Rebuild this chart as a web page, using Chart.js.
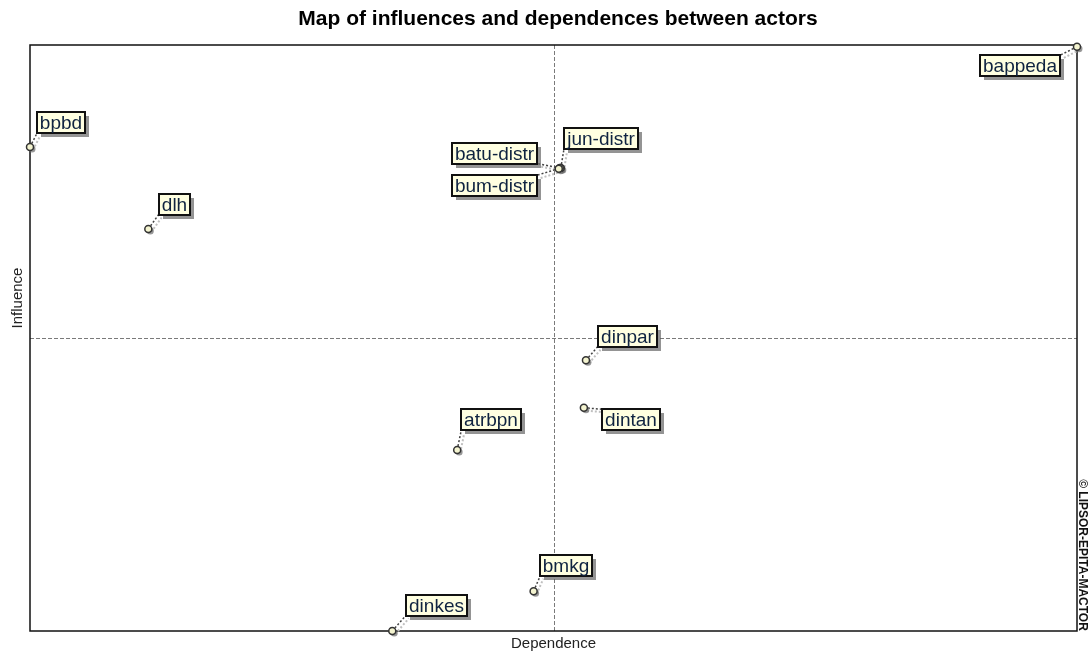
<!DOCTYPE html>
<html>
<head>
<meta charset="utf-8">
<script src="https://cdn.jsdelivr.net/npm/chart.js@4.4.1/dist/chart.umd.min.js"></script>
<style>
  html, body { margin: 0; padding: 0; background: #fff; }
  #wrap { width: 1091px; height: 653px; }
</style>
</head>
<body>
<div id="wrap"><canvas id="myChart1" width="1091" height="653"></canvas></div>
<script>
// actors and their positions (dependence = x, influence = y)
const actors = ["bappeda","bpbd","dlh","jun-distr","batu-distr","bum-distr","dinpar","dintan","atrbpn","bmkg","dinkes"];
const dependence = [1.000, 0.000, 0.113, 0.507, 0.506, 0.505, 0.531, 0.529, 0.408, 0.481, 0.346];
const influence  = [0.997, 0.826, 0.686, 0.790, 0.790, 0.789, 0.462, 0.381, 0.309, 0.068, 0.000];
const midDependence = 0.5;
const midInfluence = 0.5;

// where each label box sits (center offset from its point, px)
const labelOffsets = [[-57,19],[31,-24],[26,-25],[40,-30],[-65,-15],[-64,17],[41,-24],[47,12],[34,-30],[33,-26],[44,-26]];

const titol1 = "Map of influences and dependences between actors";
const xTitle = "Dependence";
const yTitle = "Influence";
const copyright = "© LIPSOR-EPITA-MACTOR";

const labelFont = "19px 'Liberation Sans', Arial, sans-serif";

function boxFor(i, px, py, ctx) {
    ctx.font = labelFont;
    let w = ctx.measureText(actors[i]).width + 6;
    let h = 21;
    let cx = px + labelOffsets[i][0];
    let cy = py + labelOffsets[i][1];
    return {x: cx - w/2, y: cy - h/2, w: w, h: h, cx: cx, cy: cy};
}

const mapPlugin = {
    id: 'mapPlugin',
    beforeDatasetsDraw(chart) {
        const ctx = chart.ctx;
        const a = chart.chartArea;
        const xs = chart.scales.x, ys = chart.scales.y;
        ctx.save();
        // midlines
        ctx.strokeStyle = '#7a7a7a';
        ctx.lineWidth = 1;
        ctx.setLineDash([4,2]);
        let mx = Math.round(xs.getPixelForValue(midDependence)) + 0.5;
        let my = Math.round(ys.getPixelForValue(midInfluence)) + 0.5;
        ctx.beginPath();
        ctx.moveTo(mx, a.top); ctx.lineTo(mx, a.bottom);
        ctx.moveTo(a.left, my); ctx.lineTo(a.right, my);
        ctx.stroke();
        ctx.setLineDash([]);
        // frame
        ctx.strokeStyle = '#111';
        ctx.lineWidth = 1.5;
        ctx.strokeRect(a.left, a.top, a.right - a.left, a.bottom - a.top);

        // connectors
        const meta = chart.getDatasetMeta(0);
        meta.data.forEach(function(pt, i) {
            let b = boxFor(i, pt.x, pt.y, ctx);
            let ex = Math.min(Math.max(pt.x, b.x), b.x + b.w);
            let ey = Math.min(Math.max(pt.y, b.y), b.y + b.h);
            ctx.setLineDash([2,2]);
            ctx.lineWidth = 2;
            ctx.strokeStyle = '#c0c0c0';
            ctx.beginPath();
            ctx.moveTo(pt.x + 3, pt.y + 3); ctx.lineTo(ex + 3, ey + 3);
            ctx.stroke();
            ctx.strokeStyle = '#444';
            ctx.lineWidth = 1.5;
            ctx.beginPath();
            ctx.moveTo(pt.x, pt.y); ctx.lineTo(ex, ey);
            ctx.stroke();
            ctx.setLineDash([]);
            // point shadow
            ctx.fillStyle = 'rgba(110,110,110,0.7)';
            ctx.beginPath();
            ctx.arc(pt.x + 2, pt.y + 2, 3.5, 0, Math.PI*2);
            ctx.fill();
        });
        ctx.restore();
    },
    afterDatasetsDraw(chart) {
        const ctx = chart.ctx;
        const meta = chart.getDatasetMeta(0);
        ctx.save();
        meta.data.forEach(function(pt, i) {
            let b = boxFor(i, pt.x, pt.y, ctx);
            let bx = Math.round(b.x), by = Math.round(b.y), bw = Math.round(b.w);
            ctx.fillStyle = 'rgba(90,90,90,0.65)';
            ctx.fillRect(bx + 4, by + 4, bw, b.h);
            ctx.fillStyle = '#ffffe1';
            ctx.fillRect(bx, by, bw, b.h);
            ctx.strokeStyle = '#111';
            ctx.lineWidth = 2;
            ctx.strokeRect(bx, by, bw, b.h);
            ctx.fillStyle = '#0f2340';
            ctx.font = labelFont;
            ctx.textAlign = 'center';
            ctx.textBaseline = 'middle';
            ctx.fillText(actors[i], bx + bw/2, by + b.h/2 + 1);
        });
        ctx.restore();
    },
    afterDraw(chart) {
        const ctx = chart.ctx;
        const a = chart.chartArea;
        ctx.save();
        ctx.fillStyle = '#000';
        ctx.textAlign = 'center';
        ctx.textBaseline = 'alphabetic';
        ctx.font = "bold 21px 'Liberation Sans', Arial, sans-serif";
        ctx.fillText(titol1, 558, 25);
        ctx.font = "15px 'Liberation Sans', Arial, sans-serif";
        ctx.fillStyle = '#222';
        ctx.fillText(xTitle, (a.left + a.right)/2, 648);
        ctx.save();
        ctx.translate(22, 298);
        ctx.rotate(-Math.PI/2);
        ctx.fillText(yTitle, 0, 0);
        ctx.restore();
        ctx.save();
        ctx.translate(1079, 555);
        ctx.rotate(Math.PI/2);
        ctx.font = "bold 12px 'Liberation Sans', Arial, sans-serif";
        ctx.fillStyle = '#111';
        ctx.fillText(copyright, 0, 0);
        ctx.restore();
        ctx.restore();
    }
};

function pintar1() {
    const ctx = document.getElementById('myChart1').getContext('2d');
    myChart1 = new Chart(ctx, {
        type: 'scatter',
        data: {
            datasets: [{
                label: 'actors',
                data: dependence.map(function(d, i) { return {x: d, y: influence[i]}; }),
                pointRadius: 3.5,
                pointHoverRadius: 3.5,
                pointBackgroundColor: '#f4f4d0',
                pointBorderColor: '#333',
                pointBorderWidth: 1.5,
                clip: false
            }]
        },
        options: {
            responsive: false,
            animation: false,
            layout: { padding: { left: 30, right: 14, top: 45, bottom: 22 } },
            plugins: {
                legend: { display: false },
                tooltip: { enabled: false },
                title: { display: false }
            },
            scales: {
                x: { type: 'linear', min: 0, max: 1, display: false },
                y: { type: 'linear', min: 0, max: 1, display: false }
            }
        },
        plugins: [mapPlugin]
    });
}
pintar1();
</script>
</body>
</html>
